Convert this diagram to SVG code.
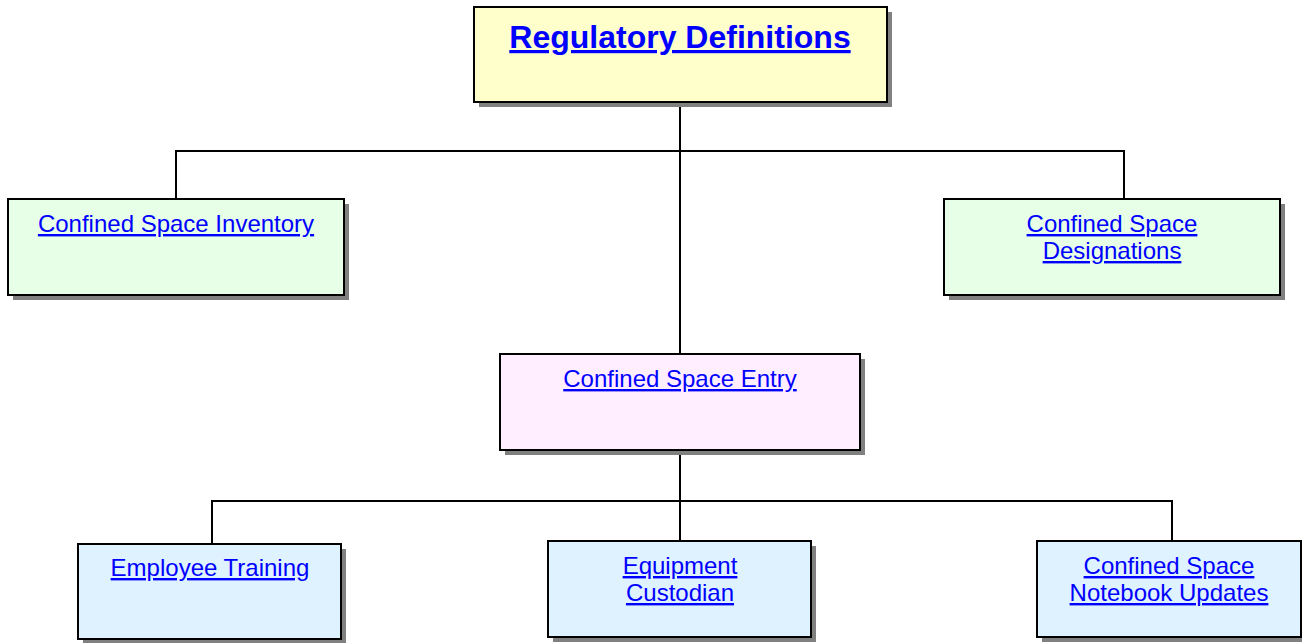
<svg xmlns="http://www.w3.org/2000/svg" width="1302" height="643" viewBox="0 0 1302 643">
<style>
.sh{fill:#808080}
.bx{stroke:#000;stroke-width:2}
.t{font-family:"Liberation Sans",Arial,sans-serif;font-size:24px;fill:#0000ff;text-decoration:underline;text-anchor:middle}
.tt{font-family:"Liberation Sans",Arial,sans-serif;font-size:32px;font-weight:bold;fill:#0000ff;text-decoration:underline;text-anchor:middle}
.c{fill:none;stroke:#000;stroke-width:2}
</style>
<rect width="1302" height="643" fill="#fff"/>
<g id="connectors">
<path class="c" d="M680 102V354M176 199V151H1124V199"/>
<path class="c" d="M680 450V541M212 544V501H1172V541"/>
</g>
<g id="regulatory-definitions">
<rect class="sh" x="479" y="12" width="413" height="95"/>
<rect class="bx" x="474" y="7" width="413" height="95" fill="#ffffcc"/>
<text class="tt" x="680" y="48">Regulatory Definitions</text>
</g>
<g id="inventory">
<rect class="sh" x="13" y="204" width="336" height="96"/>
<rect class="bx" x="8" y="199" width="336" height="96" fill="#e6ffe6"/>
<text class="t" x="176" y="232">Confined Space Inventory</text>
</g>
<g id="designations">
<rect class="sh" x="949" y="204" width="336" height="96"/>
<rect class="bx" x="944" y="199" width="336" height="96" fill="#e6ffe6"/>
<text class="t" x="1112" y="232">Confined Space</text>
<text class="t" x="1112" y="259">Designations</text>
</g>
<g id="entry">
<rect class="sh" x="505" y="359" width="360" height="96"/>
<rect class="bx" x="500" y="354" width="360" height="96" fill="#ffeeff"/>
<text class="t" x="680" y="387">Confined Space Entry</text>
</g>
<g id="training">
<rect class="sh" x="83" y="549" width="263" height="95"/>
<rect class="bx" x="78" y="544" width="263" height="95" fill="#def2ff"/>
<text class="t" x="210" y="576">Employee Training</text>
</g>
<g id="equipment">
<rect class="sh" x="553" y="546" width="263" height="96"/>
<rect class="bx" x="548" y="541" width="263" height="96" fill="#def2ff"/>
<text class="t" x="680" y="574">Equipment</text>
<text class="t" x="680" y="601">Custodian</text>
</g>
<g id="notebook">
<rect class="sh" x="1042" y="546" width="264" height="96"/>
<rect class="bx" x="1037" y="541" width="264" height="96" fill="#def2ff"/>
<text class="t" x="1169" y="574">Confined Space</text>
<text class="t" x="1169" y="601">Notebook Updates</text>
</g>
</svg>
